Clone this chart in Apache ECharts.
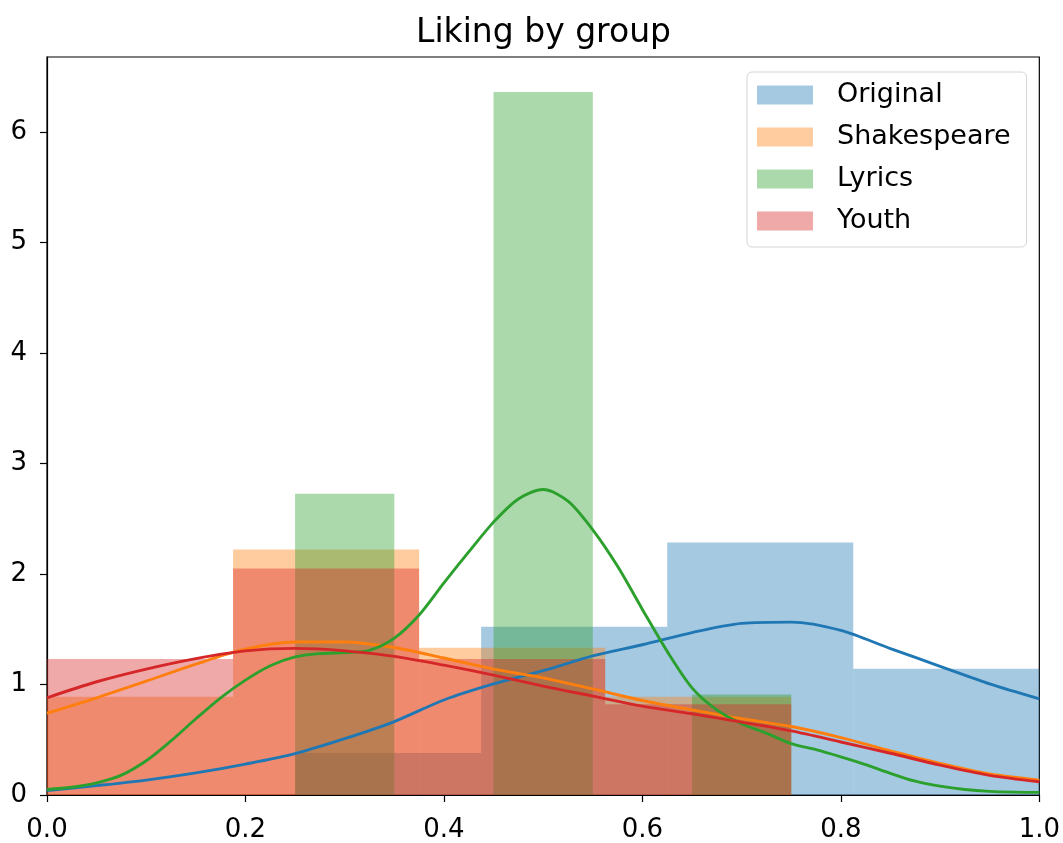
<!DOCTYPE html>
<html><head><meta charset="utf-8">
<script src="https://cdn.jsdelivr.net/npm/echarts@6/dist/echarts.min.js"></script>
<style>html,body{margin:0;padding:0;background:#fff}#c{width:1063px;height:843px}</style>
</head><body><div id="c"></div>
<script>
// ---- data ----
const groups = ['Original', 'Shakespeare', 'Lyrics', 'Youth'];

// histogram bin edges and density heights
const originalEdges = [0.0625, 0.25, 0.4375, 0.625, 0.8125, 1.0];
const originalDensity = [0, 0.381, 1.524, 2.286, 1.143];
const shakespeareEdges = [0, 0.1875, 0.375, 0.5625, 0.75];
const shakespeareDensity = [0.889, 2.222, 1.333, 0.889];
const lyricsEdges = [0.25, 0.35, 0.45, 0.55, 0.65, 0.75];
const lyricsDensity = [2.727, 0, 6.364, 0, 0.909];
const youthEdges = [0, 0.1875, 0.375, 0.5625, 0.75];
const youthDensity = [1.231, 2.051, 1.231, 0.821];

// KDE curves
const kdeX = [0, 0.05, 0.1, 0.15, 0.2, 0.25, 0.3, 0.35, 0.4, 0.45, 0.5, 0.55, 0.6, 0.65, 0.7, 0.75, 0.8, 0.85, 0.9, 0.95, 1.0];
const originalKde = [0.04, 0.085, 0.135, 0.2, 0.28, 0.375, 0.51, 0.665, 0.86, 1.005, 1.125, 1.26, 1.36, 1.47, 1.553, 1.565, 1.49, 1.325, 1.165, 1.005, 0.87];
const shakespeareKde = [0.74, 0.88, 1.03, 1.185, 1.32, 1.385, 1.385, 1.335, 1.24, 1.14, 1.06, 0.96, 0.855, 0.77, 0.69, 0.62, 0.52, 0.40, 0.285, 0.19, 0.135];
const youthKde = [0.88, 1.025, 1.14, 1.235, 1.305, 1.327, 1.305, 1.255, 1.175, 1.085, 0.985, 0.895, 0.805, 0.735, 0.66, 0.58, 0.48, 0.378, 0.27, 0.178, 0.12];
const lyricsKdeX = [0, 0.025, 0.05, 0.075, 0.1, 0.125, 0.15, 0.175, 0.2, 0.225, 0.25, 0.275, 0.3, 0.325, 0.35, 0.375, 0.4, 0.425, 0.45, 0.475, 0.5, 0.525, 0.55, 0.575, 0.6, 0.625, 0.65, 0.675, 0.7, 0.725, 0.75, 0.775, 0.8, 0.825, 0.85, 0.875, 0.9, 0.925, 0.95, 0.975, 1.0];
const lyricsKde = [0.05, 0.07, 0.11, 0.18, 0.31, 0.49, 0.69, 0.88, 1.04, 1.17, 1.25, 1.28, 1.29, 1.31, 1.42, 1.63, 1.92, 2.2, 2.47, 2.68, 2.765, 2.66, 2.40, 2.07, 1.68, 1.30, 0.97, 0.77, 0.645, 0.56, 0.465, 0.41, 0.345, 0.275, 0.196, 0.125, 0.08, 0.05, 0.033, 0.026, 0.024];

const xTicks = [0, 0.2, 0.4, 0.6, 0.8, 1.0];
const yTicks = [0, 1, 2, 3, 4, 5, 6];

// ---- styling ----
const FONT = 'DejaVu Sans';
const lineColors = ['#1f77b4', '#ff7f0e', '#2ca02c', '#d62728'];
const fillColors = ['rgba(31,119,180,0.4)', 'rgba(255,127,14,0.4)', 'rgba(44,160,44,0.4)', 'rgba(214,39,40,0.4)'];

function histSeries(name, edges, dens, color) {
  const data = dens.map((d, i) => [edges[i], edges[i + 1], d]);
  return {
    type: 'custom', name: name, data: data, z: 2, silent: true, clip: true,
    itemStyle: { color: color },
    encode: { x: [0, 1], y: 2 },
    renderItem: function (params, api) {
      const p0 = api.coord([api.value(0), api.value(2)]);
      const p1 = api.coord([api.value(1), 0]);
      return {
        type: 'rect',
        shape: { x: p0[0], y: p0[1], width: p1[0] - p0[0], height: p1[1] - p0[1] },
        style: { fill: color }
      };
    }
  };
}
function kdeSeries(name, xs, ys, color, z) {
  return {
    type: 'line', name: name, data: xs.map((x, i) => [x, ys[i]]),
    showSymbol: false, smooth: 0.3, z: z, silent: true,
    lineStyle: { color: color, width: 2.9 }
  };
}

const chart = echarts.init(document.getElementById('c'), null, { renderer: 'canvas' });
chart.setOption({
  animation: false,
  backgroundColor: '#fff',
  title: {
    text: 'Liking by group', left: 416, top: 17, padding: 0,
    textStyle: { fontFamily: FONT, fontSize: 33, fontWeight: 'normal', color: '#000' }
  },
  legend: {
    data: groups, orient: 'vertical', left: 747, top: 72,
    padding: [8, 16, 11, 10], icon: 'rect', itemWidth: 56, itemHeight: 19, itemGap: 12,
    backgroundColor: 'rgba(255,255,255,0.8)', borderColor: '#d4d4d4', borderWidth: 1, borderRadius: 5,
    textStyle: { fontFamily: FONT, fontSize: 27, color: '#000', lineHeight: 30, padding: [0, 0, 0, 19] },
    selectedMode: false
  },
  grid: { left: 47, right: 23, top: 57, bottom: 46, show: true, borderColor: '#000', borderWidth: 1.2, containLabel: false },
  xAxis: {
    type: 'value', min: 0, max: 1, interval: 0.2,
    axisLine: { show: true, onZero: false, lineStyle: { color: '#000', width: 1.2 } },
    axisTick: { show: true, length: 7, lineStyle: { color: '#000', width: 1.2 }, customValues: xTicks },
    axisLabel: { fontFamily: FONT, fontSize: 26, color: '#000', margin: 22, customValues: xTicks, formatter: v => v.toFixed(1) },
    splitLine: { show: false }
  },
  yAxis: {
    type: 'value', min: 0, max: 6.68, interval: 1,
    axisLine: { show: true, onZero: false, lineStyle: { color: '#000', width: 1.2 } },
    axisTick: { show: true, length: 7, lineStyle: { color: '#000', width: 1.2 }, customValues: yTicks },
    axisLabel: { fontFamily: FONT, fontSize: 26, color: '#000', margin: 20, customValues: yTicks, formatter: v => String(v) },
    splitLine: { show: false }
  },
  series: [
    histSeries(groups[0], originalEdges, originalDensity, fillColors[0]),
    histSeries(groups[1], shakespeareEdges, shakespeareDensity, fillColors[1]),
    histSeries(groups[2], lyricsEdges, lyricsDensity, fillColors[2]),
    histSeries(groups[3], youthEdges, youthDensity, fillColors[3]),
    kdeSeries('Original KDE', kdeX, originalKde, lineColors[0], 10),
    kdeSeries('Shakespeare KDE', kdeX, shakespeareKde, lineColors[1], 11),
    kdeSeries('Lyrics KDE', lyricsKdeX, lyricsKde, lineColors[2], 12),
    kdeSeries('Youth KDE', kdeX, youthKde, lineColors[3], 13)
  ]
});
</script>
</body></html>
